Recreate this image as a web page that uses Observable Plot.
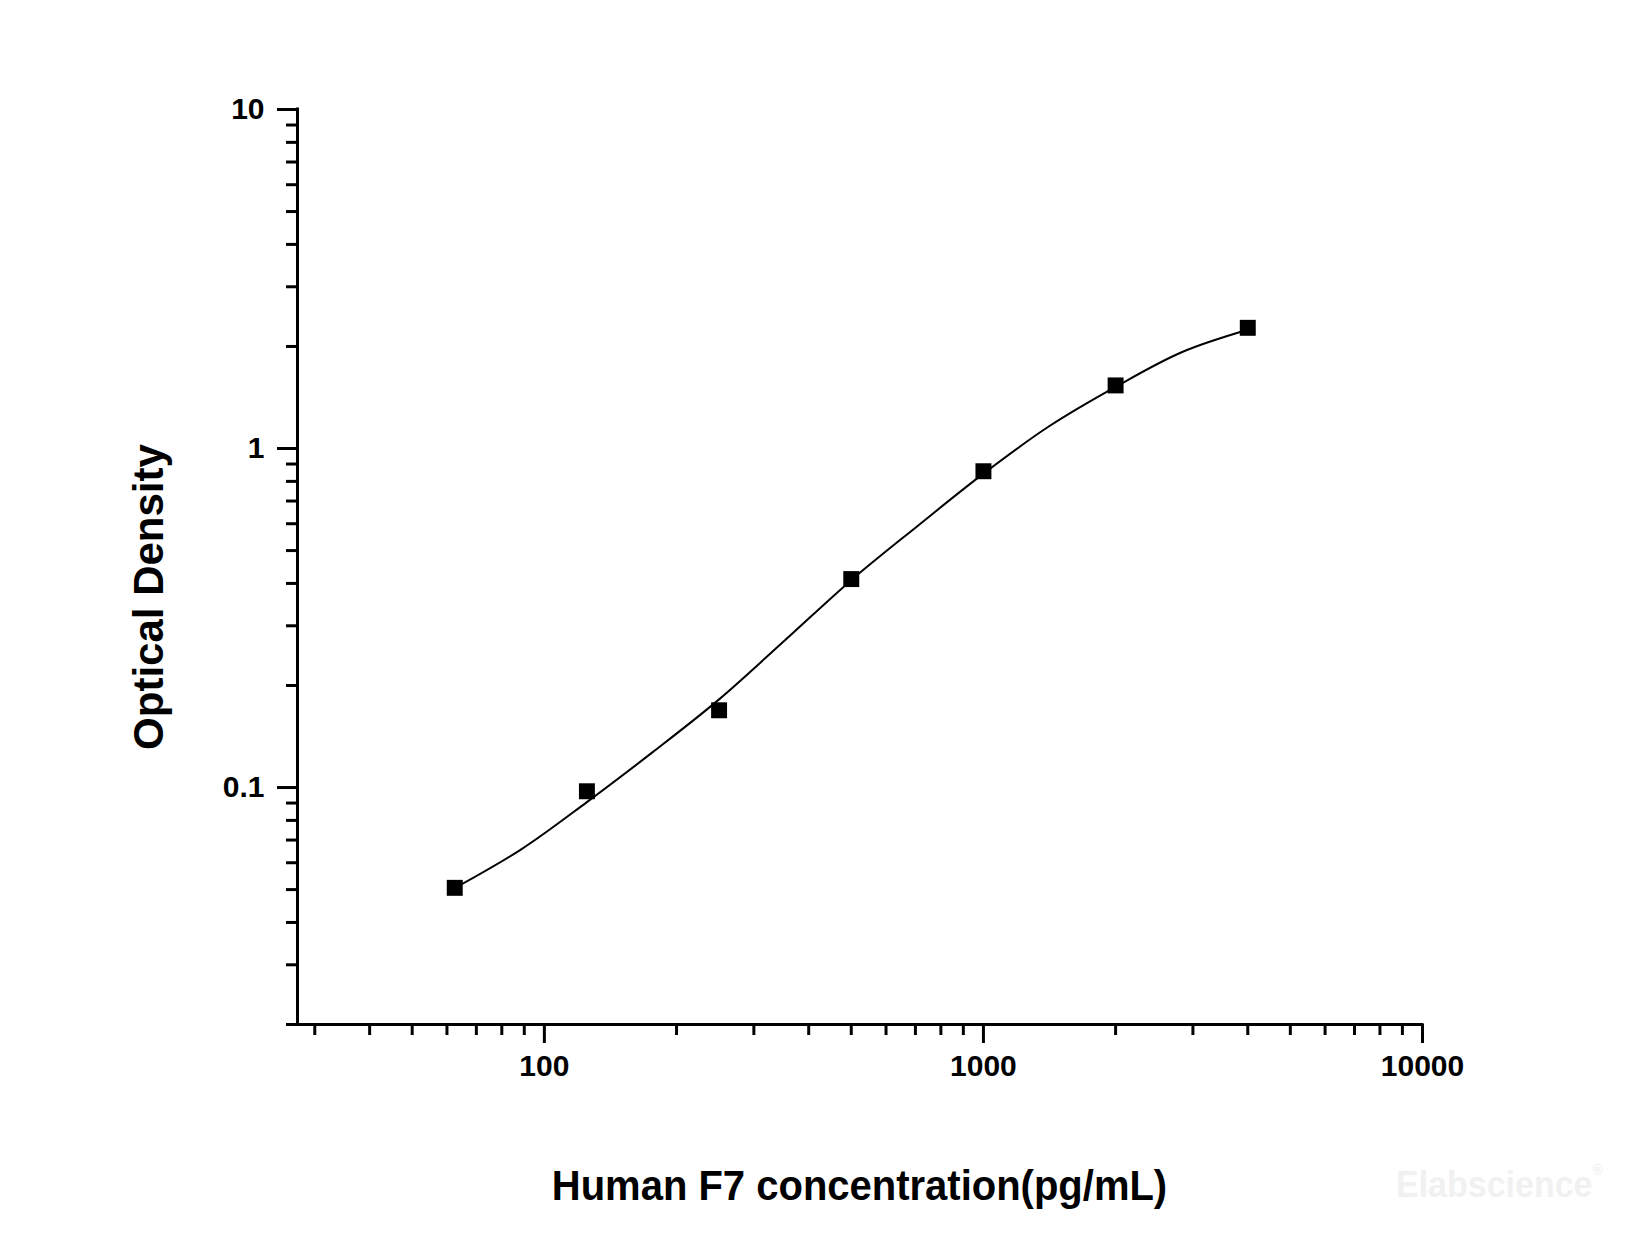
<!DOCTYPE html>
<html>
<head>
<meta charset="utf-8">
<script src="https://cdn.jsdelivr.net/npm/d3@7"></script>
<script src="https://cdn.jsdelivr.net/npm/@observablehq/plot@0.6"></script>
<style>
  html, body { margin: 0; padding: 0; background: #fff; overflow: hidden; }
  #chart svg text { font-weight: bold; }
</style>
</head>
<body>
<div id="chart"></div>
<script>
// Standard points (concentration pg/mL, optical density)
const concentration = [62.5, 125, 250, 500, 1000, 2000, 4000];
const opticalDensity = [0.0506, 0.0975, 0.169, 0.412, 0.857, 1.535, 2.27];

// Fitted curve
const curveX = [62.5, 88.4, 125, 176.8, 250, 353.6, 500, 707, 1000, 1414, 2000, 2828, 4000];
const curveY = [0.0505, 0.0656, 0.0906, 0.1274, 0.182, 0.2723, 0.409, 0.590, 0.843, 1.165, 1.52, 1.923, 2.24];

// Axis ticks
const xMajor = [100, 1000, 10000];
const xMinor = [30, 40, 50, 60, 70, 80, 90, 200, 300, 400, 500, 600, 700, 800, 900,
                2000, 3000, 4000, 5000, 6000, 7000, 8000, 9000];
const yMajor = [0.1, 1, 10];
const yMinor = [0.02, 0.03, 0.04, 0.05, 0.06, 0.07, 0.08, 0.09,
                0.2, 0.3, 0.4, 0.5, 0.6, 0.7, 0.8, 0.9,
                2, 3, 4, 5, 6, 7, 8, 9];
const xLabels = ["100", "1000", "10000"];
const yLabels = ["0.1", "1", "10"];

const xTitle = "Human F7 concentration(pg/mL)";
const yTitle = "Optical Density";
const watermark = "Elabscience";
const watermarkMark = "\u00AE";

const xDomain = [27.4, 10000];
const yDomain = [0.02, 10];

const points = concentration.map((c, i) => ({x: c, y: opticalDensity[i]}));
const curve = curveX.map((c, i) => ({x: c, y: curveY[i]}));

const W = 1650, H = 1237;
const M = {left: 297, right: 228, top: 109, bottom: 213};

const chart = Plot.plot({
  width: W,
  height: H,
  marginLeft: M.left,
  marginRight: M.right,
  marginTop: M.top,
  marginBottom: M.bottom,
  style: {fontFamily: "'Liberation Sans', Arial, sans-serif", background: "#fff", color: "#000"},
  x: {type: "log", domain: xDomain, label: null},
  y: {type: "log", domain: yDomain, label: null},
  marks: [
    // minor ticks
    Plot.axisX({ticks: xMinor, tickSize: 11, strokeWidth: 3, tickFormat: () => "", label: null}),
    Plot.axisY({ticks: yMinor, tickSize: 11, strokeWidth: 3, tickFormat: () => "", label: null}),
    // major ticks with labels
    Plot.axisX({ticks: xMajor, tickSize: 19, strokeWidth: 3, tickPadding: 11, fontSize: 30, fontWeight: "bold",
                tickFormat: (d) => xLabels[xMajor.indexOf(d)], label: null}),
    Plot.axisY({ticks: yMajor, tickSize: 20, strokeWidth: 3, tickPadding: 13, fontSize: 30, fontWeight: "bold",
                tickFormat: (d) => yLabels[yMajor.indexOf(d)], label: null}),
    // axis lines
    Plot.ruleY([yDomain[0]], {x1: xDomain[0], x2: xDomain[1], strokeWidth: 3, strokeLinecap: "square"}),
    Plot.ruleX([xDomain[0]], {y1: yDomain[0], y2: yDomain[1], strokeWidth: 3, strokeLinecap: "square"}),
    // fitted curve
    Plot.line(curve, {x: "x", y: "y", curve: "catmull-rom", stroke: "#000", strokeWidth: 2}),
    // standard points
    Plot.dot(points, {x: "x", y: "y", symbol: "square", r: 9, fill: "#000", stroke: "none"})
  ]
});
document.getElementById("chart").appendChild(chart);

// Axis titles and watermark as real SVG text
const svg = d3.select(chart);
const font = "'Liberation Sans', Arial, sans-serif";
const frameCx = M.left + (W - M.left - M.right) / 2;

svg.append("text")
  .attr("transform", `translate(${frameCx},1200) scale(1,1.05)`)
  .attr("text-anchor", "middle")
  .attr("font-family", font)
  .attr("font-size", 40)
  .attr("font-weight", "bold")
  .attr("fill", "#000")
  .text(xTitle);

svg.append("text")
  .attr("transform", "translate(163,597) rotate(-90)")
  .attr("text-anchor", "middle")
  .attr("font-family", font)
  .attr("font-size", 42)
  .attr("font-weight", "bold")
  .attr("fill", "#000")
  .text(yTitle);

const wm = svg.append("text")
  .attr("transform", "translate(1396,1197) scale(1,1.1)")
  .attr("text-anchor", "start")
  .attr("font-family", font)
  .attr("font-size", 34)
  .attr("font-weight", "bold")
  .attr("fill", "#f1f1f1");
wm.append("tspan").text(watermark);
wm.append("tspan").attr("font-size", 14).attr("dy", -20).text(watermarkMark);
</script>
</body>
</html>
